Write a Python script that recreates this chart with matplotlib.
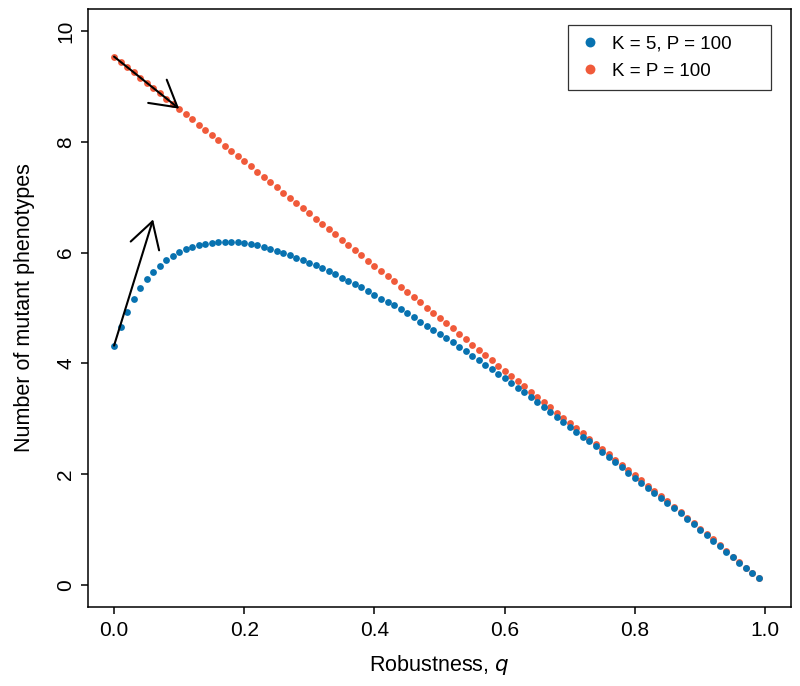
import matplotlib
matplotlib.use('Agg')
import matplotlib.pyplot as plt

# robustness values q = 0.00, 0.01, ..., 0.99
q = [i / 100 for i in range(100)]

# K = 5, P = 100 (blue)
k5_p100 = [4.32, 4.66, 4.93, 5.16, 5.36, 5.52, 5.65, 5.76, 5.86, 5.94,
           6.01, 6.06, 6.10, 6.14, 6.16, 6.18, 6.19, 6.20, 6.19, 6.19,
           6.17, 6.15, 6.13, 6.10, 6.07, 6.03, 5.99, 5.95, 5.91, 5.87,
           5.82, 5.77, 5.72, 5.66, 5.61, 5.55, 5.49, 5.43, 5.37, 5.31,
           5.24, 5.17, 5.11, 5.05, 4.98, 4.91, 4.83, 4.75, 4.68, 4.60,
           4.53, 4.45, 4.38, 4.30, 4.22, 4.14, 4.06, 3.97, 3.89, 3.81,
           3.73, 3.64, 3.56, 3.48, 3.39, 3.30, 3.21, 3.12, 3.03, 2.94,
           2.85, 2.76, 2.67, 2.59, 2.50, 2.40, 2.31, 2.21, 2.12, 2.02,
           1.93, 1.84, 1.75, 1.66, 1.57, 1.47, 1.38, 1.29, 1.18, 1.09,
           0.99, 0.90, 0.80, 0.70, 0.59, 0.50, 0.40, 0.30, 0.21, 0.12]

# K = P = 100 (orange)
k100_p100 = [9.54, 9.45, 9.35, 9.26, 9.16, 9.07, 8.97, 8.88, 8.78, 8.69,
             8.60, 8.50, 8.41, 8.31, 8.22, 8.12, 8.03, 7.93, 7.84, 7.74,
             7.65, 7.56, 7.46, 7.37, 7.27, 7.18, 7.08, 6.99, 6.89, 6.80,
             6.71, 6.61, 6.52, 6.42, 6.33, 6.23, 6.14, 6.04, 5.95, 5.85,
             5.76, 5.67, 5.57, 5.48, 5.38, 5.29, 5.19, 5.10, 5.00, 4.91,
             4.82, 4.72, 4.63, 4.53, 4.44, 4.34, 4.25, 4.15, 4.06, 3.96,
             3.87, 3.78, 3.68, 3.59, 3.49, 3.40, 3.30, 3.21, 3.11, 3.02,
             2.93, 2.83, 2.74, 2.64, 2.55, 2.45, 2.36, 2.26, 2.17, 2.07,
             1.98, 1.89, 1.79, 1.70, 1.60, 1.51, 1.41, 1.31, 1.21, 1.11,
             1.01, 0.92, 0.82, 0.72, 0.61, 0.51, 0.41, 0.31, 0.22, 0.13]

blue = '#0872B0'
orange = '#F05A3A'

plt.rcParams['font.family'] = ['Liberation Sans', 'DejaVu Sans']

fig = plt.figure(figsize=(8, 6.86), dpi=100)
ax = fig.add_axes([0.11, 0.1152, 0.879, 0.8717])

ax.plot(q, k100_p100, 'o', ms=4.9, mew=0, color=orange, label='K = P = 100', zorder=2)
ax.plot(q, k5_p100, 'o', ms=4.9, mew=0, color=blue, label='K = 5, P = 100', zorder=3)

# annotation arrows
arrow = dict(arrowstyle='->,head_length=18.5,head_width=10.7', mutation_scale=1,
             lw=1.5, color='black', shrinkA=0, shrinkB=0)
ax.annotate('', xy=(q[10], k100_p100[10]), xytext=(q[0], k100_p100[0]),
            arrowprops=arrow, zorder=4)
ax.annotate('', xy=(0.06, 6.6), xytext=(q[0], k5_p100[0]),
            arrowprops=arrow, zorder=4)

ax.set_xlim(-0.04, 1.04)
ax.set_ylim(-0.4, 10.4)
ax.set_xticks([0, 0.2, 0.4, 0.6, 0.8, 1.0])
ax.set_xticklabels(['0.0', '0.2', '0.4', '0.6', '0.8', '1.0'])
ax.set_yticks([0, 2, 4, 6, 8, 10])
ax.set_yticklabels(['0', '2', '4', '6', '8', '10'], rotation=90, va='center')
ax.tick_params(length=5, width=1.1, labelsize=15, color='black')
ax.tick_params(axis='x', pad=5)
ax.tick_params(axis='y', pad=4)
for s in ax.spines.values():
    s.set_linewidth(1.1)

ax.set_xlabel('Robustness, $q$', fontsize=15.5)
ax.set_ylabel('Number of mutant phenotypes', fontsize=15.5)
ax.xaxis.label.set_va('center')
ax.yaxis.label.set_va('center')
ax.xaxis.set_label_coords(0.5, -0.097)
ax.yaxis.set_label_coords(-0.09, 0.5)

handles, labels = ax.get_legend_handles_labels()
leg = ax.legend(handles[::-1], labels[::-1], loc='upper left',
                bbox_to_anchor=(0.683, 0.8, 0.2886, 0.1732), mode='expand',
                borderaxespad=0, fontsize=13.5, markerscale=1.45,
                fancybox=False, frameon=True, edgecolor='black',
                handletextpad=0.6, handlelength=1.2, borderpad=0.55,
                labelspacing=0.55)
leg.get_frame().set_linewidth(0.9)

plt.savefig('out.png', dpi=100)
